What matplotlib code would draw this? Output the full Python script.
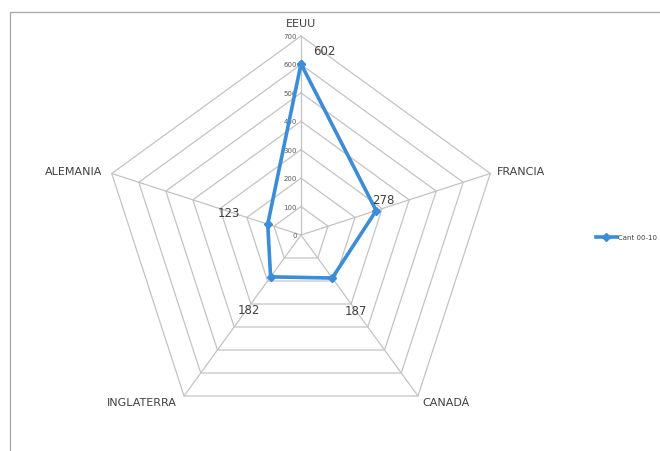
import numpy as np
import matplotlib
matplotlib.use("Agg")
import matplotlib.pyplot as plt
from matplotlib.patches import Rectangle

# Data
categories = ["EEUU", "FRANCIA", "CANADÁ", "INGLATERRA", "ALEMANIA"]
values = [602, 278, 187, 182, 123]
ticks = [0, 100, 200, 300, 400, 500, 600, 700]
series_name = "Cant 00-10"

W, H = 660, 452
cx, cy, rpx = 301, 236, 199          # centre and outer radius in pixels
upx = 700 / rpx                      # data units per pixel

fig = plt.figure(figsize=(W / 100, H / 100), dpi=100)
ax = fig.add_axes([0, 0, 1, 1])
ax.set_xlim(-cx * upx, (W - cx) * upx)
ax.set_ylim(-(H - cy) * upx, cy * upx)
ax.axis("off")

n = len(categories)
ang = np.deg2rad(90 - 360 / n * np.arange(n))
ca, sa = np.cos(ang), np.sin(ang)

grid_c = "#c3c3c3"
for r in ticks[1:]:
    ax.plot(np.append(r * ca, r * ca[0]), np.append(r * sa, r * sa[0]),
            color=grid_c, lw=0.9, zorder=1)
for i in range(n):
    ax.plot([0, ticks[-1] * ca[i]], [0, ticks[-1] * sa[i]], color=grid_c, lw=0.9, zorder=1)

# radial tick labels on the first axis
for t in ticks:
    ax.text(-4 * upx, t, str(t), ha="right", va="center", fontsize=5, color="#595959")

# category labels
lab_r = ticks[-1] + 7 * upx
for i, c in enumerate(categories):
    x, y = lab_r * ca[i], lab_r * sa[i]
    if i == 0:
        ha, va, y = "center", "bottom", ticks[-1] + 8 * upx
    elif ca[i] > 0.5:
        ha, va = "left", "center"
    elif ca[i] < -0.5:
        ha, va, x = "right", "center", x - 3 * upx
    elif ca[i] > 0:
        ha, va, x, y = "left", "center", x - 4 * upx, y - 6 * upx
    else:
        ha, va, x, y = "right", "center", x + 4 * upx, y - 6 * upx
    ax.text(x, y, c, ha=ha, va=va, fontsize=8, color="#404040")

# series
v = np.array(values, dtype=float)
blue = "#3a8dd6"
ax.plot(np.append(v * ca, v[0] * ca[0]), np.append(v * sa, v[0] * sa[0]),
        color=blue, lw=2.6, marker="D", ms=4, zorder=3, label=series_name)

# data labels (pixel offsets from the point)
offs = [(23, 13), (7, 11), (24, -32), (-22, -33), (-39, 12)]
for i, val in enumerate(values):
    dx, dy = offs[i]
    ax.text(val * ca[i] + dx * upx, val * sa[i] + dy * upx, str(val),
            ha="center", va="center", fontsize=8.5, color="#404040")

ax.legend(loc="center left", bbox_to_anchor=(596 / W, 1 - 238 / H), frameon=False,
          fontsize=5, handlelength=3.0, handletextpad=0.1, borderaxespad=0,
          borderpad=0, labelcolor="#404040")

# chart border (left and top visible)
fig.patches.append(Rectangle((10 / W, -0.1), 1.2, 1.1 - 13 / H, transform=fig.transFigure,
                             fill=False, ec="#a6a6a6", lw=0.9))

fig.savefig("out.png", dpi=100)
